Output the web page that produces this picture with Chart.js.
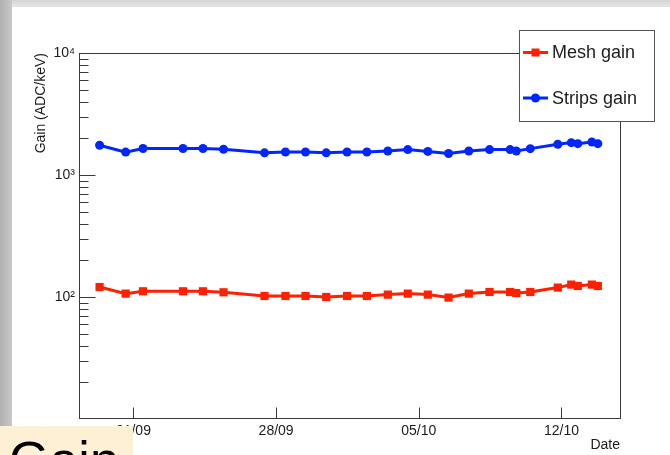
<!DOCTYPE html>
<html>
<head>
<meta charset="utf-8">
<script src="https://cdn.jsdelivr.net/npm/chart.js@4.4.1/dist/chart.umd.min.js"></script>
<style>
  html, body { margin: 0; padding: 0; background: #ffffff; width: 670px; height: 455px; overflow: hidden; }
  #wrap { position: relative; width: 670px; height: 455px; }
  #chart { position: absolute; left: 0; top: 0; }
  #topstrip { position: absolute; left: 0; top: 0; width: 670px; height: 7px;
    background: linear-gradient(to bottom, #d4d4d4, #e6e6e6); }
  #leftstrip { position: absolute; left: 0; top: 0; width: 12px; height: 426px;
    background: linear-gradient(to right, #b0b0b0, #c8c8c8); }
  #slide { position: absolute; left: 0; top: 426px; width: 133px; height: 29px; background: #fdf0d5; overflow: hidden; z-index: 5; }
  #slide span { position: absolute; left: 9px; top: 8px; font-family: "Liberation Sans", Arial, sans-serif; font-size: 52px; line-height: 52px; color: #000; }
</style>
</head>
<body>
<div id="wrap">
  <div id="topstrip"></div>
  <div id="leftstrip"></div>
  <canvas id="chart" width="670" height="455"></canvas>
  <div id="slide"><span>Gain</span></div>
</div>
<script>
// ---- data ----
const dates = ['19/09 08:10','20/09 14:50','21/09 11:15','23/09 10:20','24/09 09:50','25/09 10:05',
  '27/09 10:20','28/09 11:00','29/09 10:35','30/09 11:00','01/10 11:30','02/10 10:50','03/10 11:30',
  '04/10 11:00','05/10 10:35','06/10 11:00','07/10 10:50','08/10 11:15','09/10 11:30','09/10 18:45',
  '10/10 11:15','11/10 19:40','12/10 11:30','12/10 19:10','13/10 11:45','13/10 18:45'];
const meshGain = [120.7,106.6,111.4,111.4,111.4,109.3,101.9,101.9,101.9,100.0,101.9,101.9,104.6,
  106.6,104.6,98.9,106.6,109.9,109.9,107.8,109.9,119.4,126.4,123.1,126.4,123.1];
const stripsGain = [1752,1540,1650,1650,1650,1625,1520,1545,1545,1520,1545,1545,1573,
  1615,1560,1500,1573,1615,1615,1573,1645,1785,1842,1806,1864,1806];
const tickDates = ['21/09','28/09','05/10','12/10'];
const seriesNames = ['Mesh gain','Strips gain'];
const yDecadeLabels = {100:'10²', 1000:'10³', 10000:'10⁴'};

// day index counted from 1 September (October days follow 30 September)
function dayIndex(s) {
  const [dm, hm] = s.split(' ');
  const [d, m] = dm.split('/').map(Number);
  let v = (m === 9 ? d : 30 + d);
  if (hm) { const [h, mi] = hm.split(':').map(Number); v += h / 24 + mi / 1440; }
  return v;
}
const xDays = dates.map(dayIndex);
const tickDays = tickDates.map(dayIndex);

const RED = '#ff2000', BLUE = '#0026ff', INK = '#1c1c1c', FRAME = '#3a3a3a';
const FONT = '"Liberation Sans", Arial, Helvetica, sans-serif';

const framePlugin = {
  id: 'rootFrame',
  beforeDatasetsDraw(chart) {
    const {ctx, chartArea: a, scales: {x, y}} = chart;
    ctx.save();
    ctx.strokeStyle = FRAME; ctx.lineWidth = 1;
    const L = Math.round(a.left) + 0.5, R = Math.round(a.right) + 0.5;
    const T = Math.round(a.top) + 0.5, B = Math.round(a.bottom) - 0.5;
    ctx.strokeRect(L, T, R - L, B - T);
    ctx.beginPath();
    for (let d = 1; d <= 4; d++) {
      for (let m = 1; m <= 9; m++) {
        const v = m * Math.pow(10, d);
        if (v <= y.min || v > y.max) continue;
        const py = Math.round(y.getPixelForValue(v)) + 0.5;
        const len = (m === 1) ? 16 : 9;
        ctx.moveTo(L, py); ctx.lineTo(L + len, py);
      }
    }
    tickDays.forEach(v => {
      const px = Math.round(x.getPixelForValue(v)) + 0.5;
      ctx.moveTo(px, B); ctx.lineTo(px, B - 11);
    });
    ctx.stroke();
    ctx.restore();
  },
  afterDraw(chart) {
    const {ctx} = chart;
    const bx = 519.5, by = 30.5, bw = 135, bh = 91;
    ctx.save();
    ctx.fillStyle = '#ffffff';
    ctx.fillRect(bx, by, bw, bh);
    ctx.strokeStyle = '#555555'; ctx.lineWidth = 1;
    ctx.strokeRect(bx, by, bw, bh);
    const rows = [52.5, 98];
    chart.data.datasets.forEach((ds, i) => {
      const yy = rows[i];
      ctx.strokeStyle = ds.borderColor; ctx.lineWidth = 3;
      ctx.beginPath(); ctx.moveTo(523, yy); ctx.lineTo(548, yy); ctx.stroke();
      ctx.fillStyle = ds.backgroundColor;
      if (ds.pointStyle === 'rect') { ctx.fillRect(531.5, yy - 4, 8, 8); }
      else { ctx.beginPath(); ctx.arc(535.5, yy, 4.5, 0, Math.PI * 2); ctx.fill(); }
      ctx.fillStyle = INK;
      ctx.font = '18px ' + FONT;
      ctx.textBaseline = 'middle';
      ctx.fillText(ds.label, 552, yy + 1);
    });
    ctx.restore();
  }
};

new Chart(document.getElementById('chart'), {
  type: 'line',
  data: {
    datasets: [
      { label: seriesNames[0], data: xDays.map((d, i) => ({x: d, y: meshGain[i]})),
        borderColor: RED, backgroundColor: RED, borderWidth: 3, pointStyle: 'rect',
        pointRadius: 5.8, pointHoverRadius: 5.8, pointBorderWidth: 0, tension: 0 },
      { label: seriesNames[1], data: xDays.map((d, i) => ({x: d, y: stripsGain[i]})),
        borderColor: BLUE, backgroundColor: BLUE, borderWidth: 3, pointStyle: 'circle',
        pointRadius: 4.5, pointHoverRadius: 4.5, pointBorderWidth: 0, tension: 0 }
    ]
  },
  options: {
    responsive: false, animation: false, devicePixelRatio: 1,
    layout: { padding: { left: 0, top: 53, right: 50, bottom: 0 } },
    plugins: { legend: { display: false }, tooltip: { enabled: false } },
    scales: {
      x: {
        type: 'linear', min: 18.33, max: 44.87,
        afterBuildTicks: s => { s.ticks = tickDays.map(v => ({value: v})); },
        afterFit: s => { s.height = 36; },
        grid: { display: false, drawTicks: false }, border: { display: false },
        ticks: { autoSkip: false, maxRotation: 0, padding: 4, color: INK,
          font: { family: FONT, size: 14 },
          callback: (v, i) => tickDates[i] },
        title: { display: true, text: 'Date', align: 'end', color: INK,
          font: { family: FONT, size: 14 }, padding: { top: 0, bottom: 1 } }
      },
      y: {
        type: 'logarithmic', min: 10, max: 10000,
        afterFit: s => { s.width = 79; },
        grid: { display: false, drawTicks: false }, border: { display: false },
        ticks: { autoSkip: false, padding: 4, color: INK,
          font: { family: FONT, size: 14 },
          callback: v => yDecadeLabels[v] || '' },
        title: { display: true, text: 'Gain (ADC/keV)', align: 'end', color: INK,
          font: { family: FONT, size: 14 }, padding: { top: 33, bottom: 0 } }
      }
    }
  },
  plugins: [framePlugin]
});
</script>
</body>
</html>
